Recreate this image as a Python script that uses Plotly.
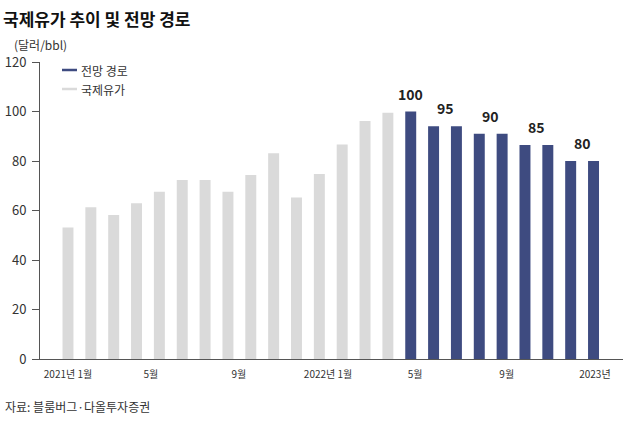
import plotly.graph_objects as go

# ---------------- data ----------------
hist_name = "국제유가"
forecast_name = "전망 경로"
hist_values = [53.1, 61.3, 58.2, 62.9, 67.6, 72.3, 72.3, 67.6, 74.3, 83.1, 65.3, 74.7, 86.7, 96.2, 99.5]
forecast_values = [100, 94, 94, 91, 91, 86.5, 86.5, 80, 80]
forecast_labels = ["100", "95", "90", "85", "80"]
forecast_label_groups = [[0], [1, 2], [3, 4], [5, 6], [7, 8]]
tick_text = ["2021년 1월", "5월", "9월", "2022년 1월", "5월", "9월", "2023년"]
tick_pos = [0, 3.63, 7.48, 11.38, 15.19, 19.2, 23.06]
y_ticks = [0, 20, 40, 60, 80, 100, 120]

title_text = "국제유가 추이 및 전망 경로"
unit_text = "(달러/bbl)"
source_text = "자료: 블룸버그·다올투자증권"

# ---------------- style ----------------
GRAY = "#dadada"
NAVY = "#3e4b80"
AXIS = "#555555"
TEXT = "#333333"
FONT = "Noto Sans CJK KR"
W, H = 630, 424
L, R, T, B = 40, 7, 62, 65
PW, PH = W - L - R, H - T - B


def px(x):
    return (x - L) / PW


def py(y):
    return (H - B - y) / PH


x_hist = list(range(len(hist_values)))
x_fc = list(range(len(hist_values), len(hist_values) + len(forecast_values)))

fig = go.Figure()
fig.add_bar(x=x_hist, y=hist_values, name=hist_name, marker_color=GRAY,
            marker_line_width=0, width=0.48, showlegend=False)
fig.add_bar(x=x_fc, y=forecast_values, name=forecast_name, marker_color=NAVY,
            marker_line_width=0, width=0.48, showlegend=False)

annotations = []
for text, grp in zip(forecast_labels, forecast_label_groups):
    xs = [x_fc[i] for i in grp]
    ys = [forecast_values[i] for i in grp]
    annotations.append(dict(
        x=sum(xs) / len(xs), y=max(ys), xref="x", yref="y", text=text,
        showarrow=False, yanchor="bottom", yshift=6,
        font=dict(family=FONT, size=14, color="#222222", weight="bold")))

# unit label
annotations.append(dict(x=px(12), y=py(44), xref="paper", yref="paper", text=unit_text,
                        showarrow=False, xanchor="left", yanchor="middle",
                        font=dict(family=FONT, size=12, color=TEXT)))
# source
annotations.append(dict(x=px(3), y=py(406), xref="paper", yref="paper", text=source_text,
                        showarrow=False, xanchor="left", yanchor="middle",
                        font=dict(family=FONT, size=12, color=TEXT)))
# legend (manual)
shapes = []
for label, color, yy in [(forecast_name, NAVY, 70), (hist_name, GRAY, 89)]:
    shapes.append(dict(type="line", xref="paper", yref="paper",
                       x0=px(62), x1=px(77), y0=py(yy), y1=py(yy),
                       line=dict(color=color, width=2.5)))
    annotations.append(dict(x=px(79), y=py(yy), xref="paper", yref="paper", text=label,
                            showarrow=False, xanchor="left", yanchor="middle",
                            font=dict(family=FONT, size=12, color=TEXT)))

fig.update_layout(
    width=W, height=H,
    margin=dict(l=L, r=R, t=T, b=B),
    paper_bgcolor="white", plot_bgcolor="white",
    title=dict(text=title_text, x=3 / W, xanchor="left", y=1 - 20 / H, yanchor="middle",
               font=dict(family=FONT, size=17, color="#111111", weight="bold")),
    font=dict(family=FONT, color=TEXT),
    barmode="overlay",
    annotations=annotations,
    shapes=shapes,
    xaxis=dict(range=[-1.225, 24.29], tickvals=tick_pos, ticktext=tick_text,
               showline=True, linecolor=AXIS, linewidth=1, ticks="",
               showgrid=False, zeroline=False, ticklabelstandoff=6, automargin=False,
               tickfont=dict(family=FONT, size=10, color=TEXT)),
    yaxis=dict(range=[0, 120], tickvals=y_ticks, showline=True, linecolor=AXIS,
               linewidth=1, ticks="outside", ticklen=7, tickcolor=AXIS,
               showgrid=False, zeroline=False, ticklabelstandoff=3, automargin=False,
               tickfont=dict(family=FONT, size=13, color=TEXT)),
)

fig.write_html("out.html",
               config={"displayModeBar": False},
               post_script="document.body.style.margin='0px';document.body.style.overflow='hidden';")
